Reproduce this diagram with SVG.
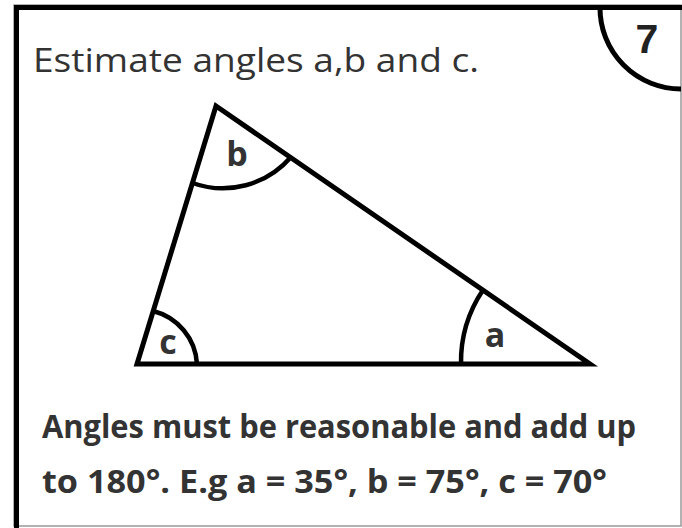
<svg xmlns="http://www.w3.org/2000/svg" width="682" height="528" viewBox="0 0 682 528">
<style>
.t{font-family:"Open Sans","Noto Sans",sans-serif;fill:#333333}
.shape{fill:none;stroke:#000;stroke-width:5}
.arc{fill:none;stroke:#000;stroke-width:4.5}
</style>
<rect width="682" height="528" fill="#fff"/>
<g id="frame">
<rect x="14" y="5" width="667" height="521" fill="none" stroke="#999" stroke-width="1.5"/>
<path d="M16.5 528 V7.5 H682" fill="none" stroke="#000" stroke-width="5"/>
<path d="M600 7.5 A81 81 0 0 0 681 89" class="shape"/>
<text x="647" y="53" font-family="Liberation Sans,Arial,sans-serif" font-weight="bold" font-size="41" fill="#222" text-anchor="middle">7</text>
</g>
<g id="title">
<text class="t" x="33" y="72" font-size="32" font-weight="500" textLength="446" lengthAdjust="spacingAndGlyphs">Estimate angles a,b and c.</text>
</g>
<g id="triangle">
<path d="M216 106 L590 364 L137 364 Z" class="shape" stroke-linejoin="miter"/>
<path d="M192.5 183 A90 90 0 0 0 291 157" class="arc"/>
<path d="M153 311 A58 58 0 0 1 197 364" class="arc"/>
<path d="M483 290 A129 129 0 0 0 461 364" class="arc"/>
<text class="t" x="237" y="166" font-size="34" font-weight="bold" text-anchor="middle">b</text>
<text class="t" x="168" y="354" font-size="34" font-weight="bold" text-anchor="middle">c</text>
<text class="t" x="495" y="347" font-size="34" font-weight="bold" text-anchor="middle">a</text>
</g>
<g id="answer">
<text class="t" x="42" y="438" font-size="32" font-weight="bold" textLength="594" lengthAdjust="spacingAndGlyphs">Angles must be reasonable and add up</text>
<text class="t" x="42" y="493" font-size="32" font-weight="bold" textLength="565" lengthAdjust="spacingAndGlyphs">to 180°. E.g a = 35°, b = 75°, c = 70°</text>
</g>
</svg>
